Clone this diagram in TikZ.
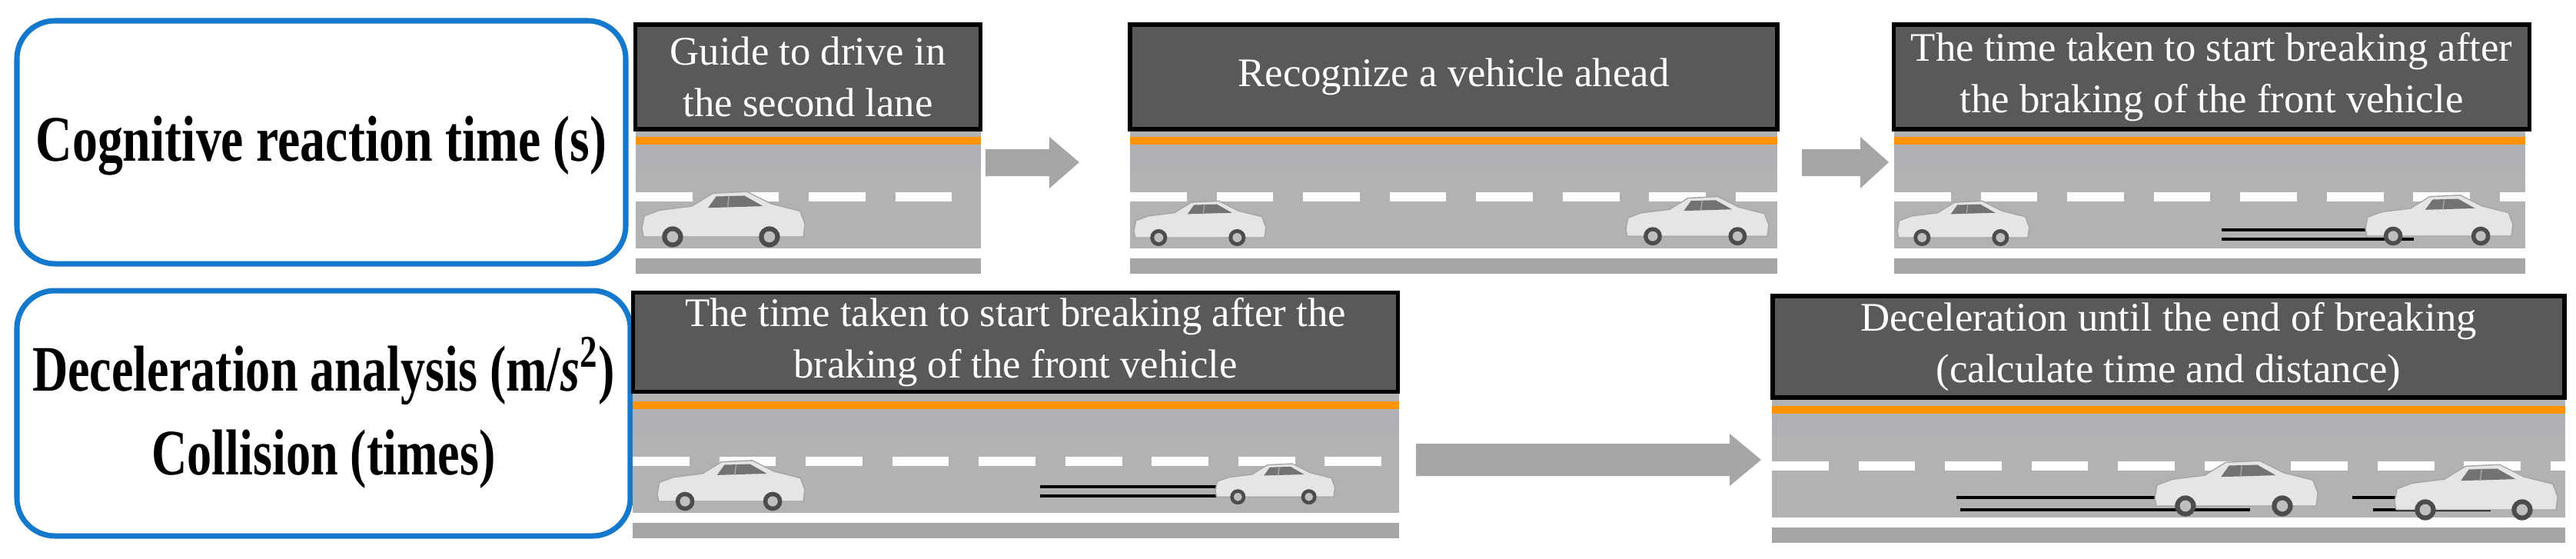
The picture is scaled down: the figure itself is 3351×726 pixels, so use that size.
\documentclass[tikz,border=0pt]{standalone}
\usepackage{fontspec}
\usepackage{graphicx}
\setmainfont{Liberation Serif}
\definecolor{catblue}{RGB}{20,120,205}
\begin{document}
\begin{tikzpicture}[x=0.01cm,y=-0.01cm,
  cat/.style={draw=catblue,line width=2pt,rounded corners=14pt,fill=white,inner sep=0pt},
  lab/.style={draw=black,line width=1.5pt,fill=black!65,text=white,align=center,font=\fontsize{15}{19}\selectfont,inner sep=0pt},
  garrow/.style={fill=black!35,draw=none},
  skid/.style={line width=1.2pt,black}]
\useasboundingbox (0,0) rectangle (3351,726);
\tikzset{car/.pic={
  \filldraw[fill=black!10,draw=black!35,line width=0.4pt] (0,50) -- (3,34) -- (22,27) -- (62,22) -- (88,6) -- (130,4) -- (160,19) -- (196,28) -- (202,44) -- (200,60) -- (2,60) -- cycle;
  \fill[black!55] (92,10) -- (127,9) -- (150,22) -- (82,24) -- cycle;
  \draw[black!35] (108,9) -- (106,24);
  \foreach \w in {38,158}{\fill[black!70] (\w,60) circle (13); \fill[black!25] (\w,60) circle (7);}
}}
\newcommand\roadseg[3]{%
  \fill[black!30] (#1,#3) rectangle (#2,#3+155);
  \fill[black!25!blue!5!gray!60] (#1,#3+22) rectangle (#2,#3+50);
  \fill[orange!85!yellow] (#1,#3+10) rectangle (#2,#3+20);
  \draw[white,line width=3.4pt,dash pattern=on 21pt off 11pt] (#1,#3+88) -- (#2,#3+88);
  \fill[black!35] (#1,#3+168) rectangle (#2,#3+188);}
% left category boxes
\draw[cat] (22,27) rectangle (814,343);
\node[font=\bfseries\fontsize{24}{30}\selectfont,align=center] (c1) at (418,190) {\scalebox{0.78}[1]{Cognitive reaction time (s)}};
\draw[cat] (22,378) rectangle (820,697);
\node[font=\bfseries\fontsize{24}{31}\selectfont,align=center] (c2) at (421,537) {\scalebox{0.76}[1]{Deceleration analysis (m/\textit{s}\textsuperscript{2})}\\\scalebox{0.76}[1]{Collision (times)}};
% roads
\roadseg{827}{1276}{168}
\roadseg{1470}{2312}{168}
\roadseg{2464}{3285}{168}
\roadseg{823}{1820}{512}
\roadseg{2305}{3337}{518}
% labels
\node[lab,minimum width=449*0.01cm,minimum height=136*0.01cm] (l1) at (1051,100) {Guide to drive in\\the second lane};
\node[lab,minimum width=842*0.01cm,minimum height=136*0.01cm] (l2) at (1891,100) {Recognize a vehicle ahead};
\node[lab,minimum width=827*0.01cm,minimum height=136*0.01cm] (l3) at (2877,100) {The time taken to start breaking after\\the braking of the front vehicle};
\node[lab,minimum width=995*0.01cm,minimum height=129*0.01cm] (l4) at (1321,445) {The time taken to start breaking after the\\braking of the front vehicle};
\node[lab,minimum width=1030*0.01cm,minimum height=132*0.01cm] (l5) at (2821,451) {Deceleration until the end of breaking\\(calculate time and distance)};
% arrows
\fill[garrow] (1282,194) -- (1365,194) -- (1365,178) -- (1404,211) -- (1365,245) -- (1365,229) -- (1282,229) -- cycle;
\fill[garrow] (2344,194) -- (2420,194) -- (2420,178) -- (2457,211) -- (2420,245) -- (2420,229) -- (2344,229) -- cycle;
\fill[garrow] (1842,577) -- (2250,577) -- (2250,564) -- (2291,598) -- (2250,632) -- (2250,619) -- (1842,619) -- cycle;
% skid marks
\draw[skid] (2890,299) -- (3140,299); \draw[skid] (2890,311) -- (3140,311);
\draw[skid] (1353,633) -- (1660,633); \draw[skid] (1353,645) -- (1667,645);
\draw[skid] (2545,647) -- (2870,647); \draw[skid] (2550,663) -- (2927,663);
\draw[skid] (3060,647) -- (3130,647); \draw[skid] (3087,663) -- (3240,663);
% cars
\pic[scale=1.05] at (835,245) {car};
\pic[scale=0.85] at (1475,258) {car};
\pic[scale=0.92] at (2115,252) {car};
\pic[scale=0.85] at (2468,258) {car};
\pic[scale=0.95] at (3077,250) {car};
\pic[scale=0.95] at (855,595) {car};
\pic[scale=0.77] at (1581,600) {car};
\pic[scale=1.05] at (2803,595) {car};
\pic[scale=1.05] at (3115,600) {car};
\end{tikzpicture}
\end{document}
